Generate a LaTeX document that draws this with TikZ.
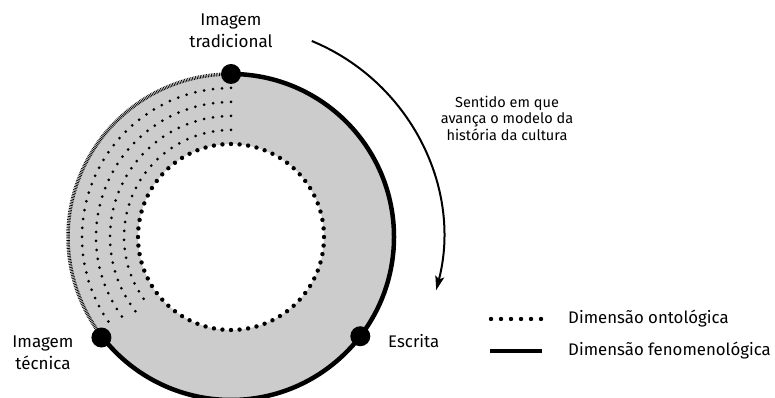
\documentclass[tikz,border=0pt]{standalone}
\usepackage{fontspec}
\setmainfont{Fira Sans}
\usetikzlibrary{arrows.meta,calc}
\definecolor{ringgray}{HTML}{CCCCCC}
\tikzset{
  bigdot/.style={circle,fill=black,inner sep=0pt,minimum size=20pt},
  phenline/.style={line width=4.5pt},
  hatchline/.style={line width=3.5pt,color=black,dash pattern=on 0.7pt off 0.9pt},
  lbl/.style={font=\fontsize{17}{22}\selectfont,align=center,inner sep=0pt},
  legtext/.style={font=\fontsize{16.8}{22}\selectfont,anchor=west,inner sep=0pt},
  smalltext/.style={font=\fontsize{14.5}{16.5}\selectfont,align=center,inner sep=0pt},
  flowarrow/.style={line width=2pt,-{Stealth[length=14pt,width=9pt,inset=3pt]}}
}
\begin{document}
\begin{tikzpicture}[x=1pt,y=1pt]
\useasboundingbox (0,0) rectangle (775,398);
\begin{scope}[shift={(231,161)}]
  % ring
  \fill[ringgray,even odd rule] (0,0) circle[radius=163] (0,0) circle[radius=93];
  % intermediate dotted arcs
  \foreach \r in {107,121,135,149}{
    \pgfmathsetmacro{\stp}{9/\r*180/pi}
    \pgfmathtruncatemacro{\nd}{floor(128/\stp)}
    \foreach \k in {0,...,\nd}{
      \fill ({90+\k*\stp}:\r) circle[radius=1.5];
    }
  }
  % inner dotted circle
  \foreach \k in {0,...,67}{
    \fill ({90+\k*5.2941}:93) circle[radius=2.2];
  }
  % hatched outer arc
  \draw[hatchline] (90:163) arc[start angle=90,end angle=218,radius=163];
  % solid outer arc
  \draw[phenline] (90:163) arc[start angle=90,end angle=-142,radius=163];
  % points
  \node[bigdot] (trad) at (90:163) {};
  \node[bigdot] (escr) at (-37.5:163) {};
  \node[bigdot] (tecn) at (217.8:164) {};
  % arrow
  \coordinate (arrS) at (67.6:212);
  \coordinate (arrE) at (-14.5:212);
  \draw[flowarrow] (arrS) arc[start angle=67.6,end angle=-14.5,radius=212];
\end{scope}
\node[lbl] (tradl) at (231,367) {Imagem\\tradicional};
\node[lbl] (tecnl) at (43,45) {Imagem\\técnica};
\node[legtext] (escrl) at (388,57) {Escrita};
\node[smalltext] (sent) at (507,280) {Sentido em que\\avança o modelo da\\história da cultura};
% legend
\coordinate (l1a) at (491,79);
\coordinate (l1b) at (541,79);
\foreach \i in {0,...,5}{
  \fill ($(l1a)!\i/5!(l1b)$) circle[radius=2.2];
}
\coordinate (l2a) at (490,47);
\coordinate (l2b) at (542,47);
\draw[phenline] (l2a) -- (l2b);
\node[legtext] (leg1) at (568,79) {Dimensão ontológica};
\node[legtext] (leg2) at (568,47) {Dimensão fenomenológica};
\end{tikzpicture}
\end{document}
